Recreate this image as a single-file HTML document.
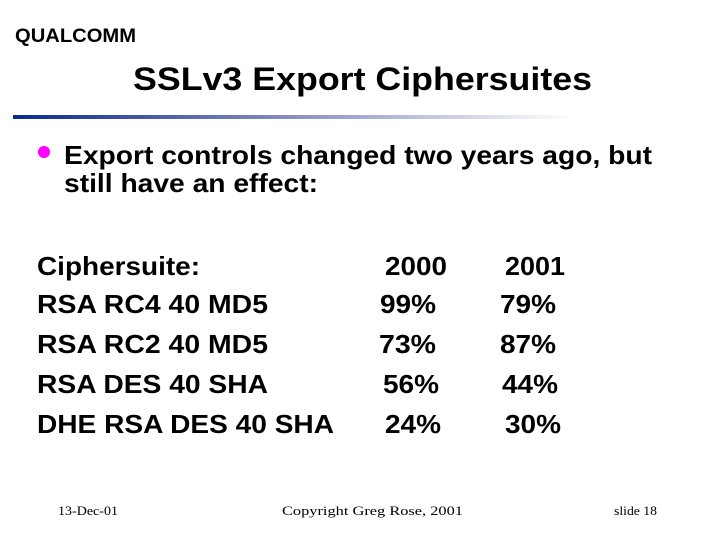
<!DOCTYPE html>
<html><head><meta charset="utf-8"><style>
html,body{margin:0;padding:0;background:#fff;}
svg{display:block;}
.b{font-family:"Liberation Sans",Arial,sans-serif;font-weight:bold;fill:#000;}
.s{font-family:"Liberation Serif",serif;fill:#000;font-size:13px;}
</style></head><body>
<svg width="719" height="539" viewBox="0 0 719 539" xmlns="http://www.w3.org/2000/svg">
<defs><linearGradient id="g" x1="0" x2="1"><stop offset="0" stop-color="#0a2a8c"/><stop offset="0.5" stop-color="#8890c0"/><stop offset="1" stop-color="#ffffff"/></linearGradient></defs>
<text x="15" y="42" class="b" font-size="19" textLength="121" lengthAdjust="spacingAndGlyphs">QUALCOMM</text>
<text x="133" y="90" class="b" font-size="32" textLength="459" lengthAdjust="spacingAndGlyphs">SSLv3 Export Ciphersuites</text>
<rect x="13" y="115" width="560" height="4" fill="url(#g)"/>
<circle cx="44" cy="152" r="6" fill="#f0f"/>
<text x="64" y="164" class="b" font-size="26" textLength="588" lengthAdjust="spacingAndGlyphs">Export controls changed two years ago, but</text>
<text x="64" y="192" class="b" font-size="26" textLength="254" lengthAdjust="spacingAndGlyphs">still have an effect:</text>
<g class="b" font-size="26">
<text x="37" y="275" textLength="163" lengthAdjust="spacingAndGlyphs">Ciphersuite:</text>
<text x="385" y="275" textLength="62" lengthAdjust="spacingAndGlyphs">2000</text>
<text x="505" y="275" textLength="60" lengthAdjust="spacingAndGlyphs">2001</text>
<text x="37" y="313" textLength="231" lengthAdjust="spacingAndGlyphs">RSA RC4 40 MD5</text>
<text x="380" y="313" textLength="56" lengthAdjust="spacingAndGlyphs">99%</text>
<text x="500" y="313" textLength="56" lengthAdjust="spacingAndGlyphs">79%</text>
<text x="37" y="353" textLength="231" lengthAdjust="spacingAndGlyphs">RSA RC2 40 MD5</text>
<text x="379" y="353" textLength="57" lengthAdjust="spacingAndGlyphs">73%</text>
<text x="500" y="353" textLength="56" lengthAdjust="spacingAndGlyphs">87%</text>
<text x="37" y="393" textLength="231" lengthAdjust="spacingAndGlyphs">RSA DES 40 SHA</text>
<text x="383" y="393" textLength="56" lengthAdjust="spacingAndGlyphs">56%</text>
<text x="502" y="393" textLength="56" lengthAdjust="spacingAndGlyphs">44%</text>
<text x="37" y="433" textLength="297" lengthAdjust="spacingAndGlyphs">DHE RSA DES 40 SHA</text>
<text x="385" y="433" textLength="56" lengthAdjust="spacingAndGlyphs">24%</text>
<text x="505" y="433" textLength="56" lengthAdjust="spacingAndGlyphs">30%</text>
</g>
<text x="58" y="515" class="s" textLength="60" lengthAdjust="spacingAndGlyphs">13-Dec-01</text>
<text x="282" y="515" class="s" textLength="181" lengthAdjust="spacingAndGlyphs">Copyright Greg Rose, 2001</text>
<text x="614" y="515" class="s" textLength="43" lengthAdjust="spacingAndGlyphs">slide  18</text>
</svg>
</body></html>
